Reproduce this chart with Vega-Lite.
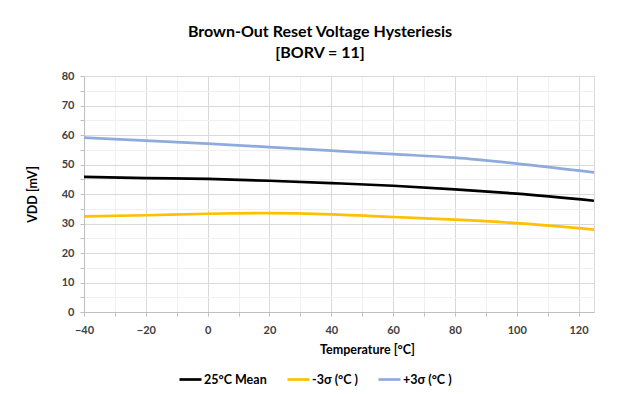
{
  "$schema": "https://vega.github.io/schema/vega-lite/v6.json",
  "width": 510,
  "height": 236,
  "autosize": {"type": "none"},
  "padding": {"left": 84, "top": 76, "right": 26, "bottom": 82},
  "background": "#ffffff",
  "config": {
    "font": "Lato",
    "view": {"stroke": "#d9d9d9", "strokeWidth": 1}
  },
  "title": {
    "text": ["Brown-Out Reset Voltage Hysteriesis", "[BORV = 11]"],
    "font": "Lato",
    "fontSize": 16,
    "fontWeight": "bold",
    "color": "#000000",
    "anchor": "middle",
    "dx": -19,
    "offset": 9,
    "lineHeight": 21
  },
  "data": {
    "values": [
      {"temp": -40, "value": 45.8, "series": "25°C Mean"},
      {"temp": -20, "value": 45.4, "series": "25°C Mean"},
      {"temp": 0, "value": 45.1, "series": "25°C Mean"},
      {"temp": 20, "value": 44.5, "series": "25°C Mean"},
      {"temp": 40, "value": 43.7, "series": "25°C Mean"},
      {"temp": 60, "value": 42.8, "series": "25°C Mean"},
      {"temp": 80, "value": 41.6, "series": "25°C Mean"},
      {"temp": 100, "value": 40.1, "series": "25°C Mean"},
      {"temp": 125, "value": 37.7, "series": "25°C Mean"},
      {"temp": -40, "value": 32.4, "series": "-3σ (°C )"},
      {"temp": -20, "value": 32.8, "series": "-3σ (°C )"},
      {"temp": 0, "value": 33.3, "series": "-3σ (°C )"},
      {"temp": 20, "value": 33.5, "series": "-3σ (°C )"},
      {"temp": 40, "value": 33.1, "series": "-3σ (°C )"},
      {"temp": 60, "value": 32.2, "series": "-3σ (°C )"},
      {"temp": 80, "value": 31.3, "series": "-3σ (°C )"},
      {"temp": 100, "value": 30.1, "series": "-3σ (°C )"},
      {"temp": 125, "value": 27.9, "series": "-3σ (°C )"},
      {"temp": -40, "value": 59.1, "series": "+3σ (°C )"},
      {"temp": -20, "value": 58.1, "series": "+3σ (°C )"},
      {"temp": 0, "value": 57.1, "series": "+3σ (°C )"},
      {"temp": 20, "value": 55.9, "series": "+3σ (°C )"},
      {"temp": 40, "value": 54.7, "series": "+3σ (°C )"},
      {"temp": 60, "value": 53.5, "series": "+3σ (°C )"},
      {"temp": 80, "value": 52.3, "series": "+3σ (°C )"},
      {"temp": 100, "value": 50.3, "series": "+3σ (°C )"},
      {"temp": 125, "value": 47.3, "series": "+3σ (°C )"}
    ]
  },
  "mark": {"type": "line", "strokeWidth": 2.7, "interpolate": "monotone"},
  "encoding": {
    "x": {
      "field": "temp",
      "type": "quantitative",
      "scale": {"domain": [-40, 125], "nice": false, "zero": false},
      "axis": {
        "title": "Temperature [°C]",
        "values": [-40, -30, -20, -10, 0, 10, 20, 30, 40, 50, 60, 70, 80, 90, 100, 110, 120],
        "labelExpr": "datum.value % 20 === 0 ? datum.label : ''",
        "grid": true,
        "gridColor": {"condition": {"test": "datum.value % 20 === 0", "value": "#d9d9d9"}, "value": "#f0f0f0"},
        "gridWidth": 1,
        "domainColor": "#bfbfbf",
        "tickColor": "#bfbfbf",
        "tickSize": 4,
        "labelFont": "Lato",
        "labelFontSize": 11,
        "labelFontWeight": "bold",
        "labelColor": "#404040",
        "labelPadding": 8,
        "labelFlush": false,
        "labelOverlap": false,
        "titleFont": "Lato",
        "titleFontSize": 12.5,
        "titleFontWeight": "bold",
        "titleColor": "#000000",
        "titlePadding": 8,
        "titleX": 283,
        "titleAlign": "center"
      }
    },
    "y": {
      "field": "value",
      "type": "quantitative",
      "scale": {"domain": [0, 80], "nice": false},
      "axis": {
        "title": "VDD [mV]",
        "values": [0, 5, 10, 15, 20, 25, 30, 35, 40, 45, 50, 55, 60, 65, 70, 75, 80],
        "labelExpr": "datum.value % 10 === 0 ? datum.label : ''",
        "grid": true,
        "gridColor": {"condition": {"test": "datum.value % 10 === 0", "value": "#d9d9d9"}, "value": "#f0f0f0"},
        "gridWidth": 1,
        "domainColor": "#bfbfbf",
        "tickColor": "#bfbfbf",
        "tickSize": 4,
        "labelFont": "Lato",
        "labelFontSize": 11,
        "labelFontWeight": "bold",
        "labelColor": "#404040",
        "labelPadding": 6,
        "labelFlush": false,
        "labelOverlap": false,
        "titleFont": "Lato",
        "titleFontSize": 12.5,
        "titleFontWeight": "bold",
        "titleColor": "#000000",
        "titlePadding": 22
      }
    },
    "color": {
      "field": "series",
      "type": "nominal",
      "scale": {
        "domain": ["25°C Mean", "-3σ (°C )", "+3σ (°C )"],
        "range": ["#000000", "#ffc000", "#8faadc"]
      },
      "legend": {
        "title": null,
        "orient": "none",
        "direction": "horizontal",
        "legendX": 94,
        "legendY": 291,
        "symbolType": "stroke",
        "symbolSize": 484,
        "symbolStrokeWidth": 2.7,
        "labelFont": "Lato",
        "labelFontSize": 12.5,
        "labelFontWeight": "bold",
        "labelColor": "#000000",
        "labelOffset": 1,
        "columnPadding": 15
      }
    }
  }
}
